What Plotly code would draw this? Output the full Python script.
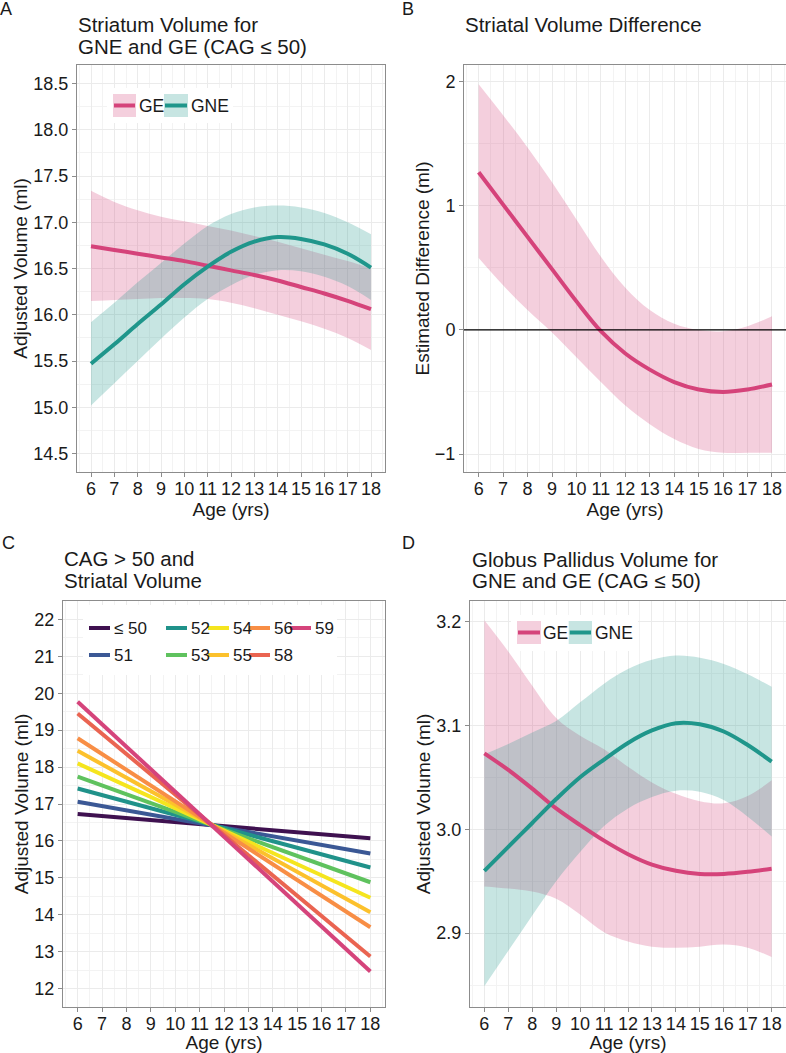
import plotly.graph_objects as go

# ---------------- data ----------------
ages = [6, 7, 8, 9, 10, 11, 12, 13, 14, 15, 16, 17, 18]

# Panel A: striatum volume (ml)
a_ge_fit = [16.74, 16.70, 16.66, 16.62, 16.58, 16.53, 16.48, 16.43, 16.37, 16.30, 16.23, 16.15, 16.06]
a_ge_lo = [16.15, 16.16, 16.17, 16.18, 16.18, 16.17, 16.13, 16.07, 16.00, 15.93, 15.85, 15.75, 15.62]
a_ge_hi = [17.34, 17.22, 17.13, 17.06, 17.01, 16.96, 16.91, 16.85, 16.79, 16.72, 16.65, 16.58, 16.50]
a_gne_fit = [15.47, 15.68, 15.90, 16.11, 16.33, 16.52, 16.68, 16.79, 16.84, 16.82, 16.76, 16.66, 16.51]
a_gne_lo = [15.02, 15.26, 15.50, 15.74, 15.97, 16.17, 16.32, 16.43, 16.48, 16.47, 16.41, 16.31, 16.16]
a_gne_hi = [15.92, 16.13, 16.35, 16.56, 16.77, 16.96, 17.09, 17.16, 17.18, 17.16, 17.10, 17.00, 16.87]

# Panel B: estimated difference (ml)
b_fit = [1.27, 1.01, 0.75, 0.49, 0.23, -0.01, -0.19, -0.32, -0.42, -0.48, -0.50, -0.48, -0.44]
b_lo = [0.58, 0.36, 0.16, -0.02, -0.22, -0.42, -0.61, -0.76, -0.88, -0.96, -0.99, -0.99, -0.99]
b_hi = [1.98, 1.73, 1.47, 1.19, 0.89, 0.59, 0.34, 0.16, 0.05, 0.00, -0.01, 0.03, 0.11]
b_ref = 0

# Panel C: CAG > 50 lines (value at age 6 and age 18)
c_ages = [6, 18]
cag_groups = ["\u2264 50", "51", "52", "53", "54", "55", "56", "58", "59"]
c_at6 = [16.73, 17.06, 17.42, 17.74, 18.10, 18.44, 18.78, 19.45, 19.77]
c_at18 = [16.07, 15.66, 15.28, 14.88, 14.46, 14.07, 13.66, 12.87, 12.46]
cag_colors = ["#3F1150", "#3B5895", "#20928A", "#5FC25E", "#F5E51E",
              "#FCC12C", "#F88E45", "#EA6451", "#D5447B"]

# Panel D: globus pallidus volume (ml)
d_ge_fit = [3.073, 3.057, 3.039, 3.020, 3.004, 2.989, 2.976, 2.966, 2.960, 2.957, 2.957, 2.959, 2.962]
d_ge_lo = [2.945, 2.943, 2.940, 2.933, 2.918, 2.901, 2.892, 2.887, 2.886, 2.887, 2.889, 2.886, 2.877]
d_ge_hi = [3.201, 3.171, 3.138, 3.107, 3.090, 3.077, 3.060, 3.045, 3.034, 3.027, 3.025, 3.032, 3.047]
d_gne_fit = [2.960, 2.983, 3.006, 3.029, 3.050, 3.067, 3.083, 3.095, 3.102, 3.101, 3.094, 3.081, 3.065]
d_gne_lo = [2.849, 2.883, 2.917, 2.950, 2.978, 3.003, 3.020, 3.031, 3.037, 3.036, 3.028, 3.012, 2.993]
d_gne_hi = [3.072, 3.082, 3.093, 3.104, 3.122, 3.140, 3.154, 3.163, 3.167, 3.165, 3.159, 3.149, 3.137]

group_names = ["GE", "GNE"]

# ---------------- style ----------------
W, H = 786, 1053
FONT = "Liberation Sans, Arial, Helvetica, sans-serif"
TXT = "#1A1A1A"
PINK = "#D5437A"
TEAL = "#1F968B"
PINK_FILL = "rgba(214,69,123,0.26)"
TEAL_FILL = "rgba(33,150,140,0.25)"
BORDER = "#8C8C8C"
GRID = "#EBEBEB"
GRID_MINOR = "#F3F3F3"
TICK_SIZE = 18
AXT_SIZE = 19
TITLE_SIZE = 20.5


def fx(p):
    return p / W


def fy(p):
    return 1 - p / H


fig = go.Figure()


def band(ax, ay, lo, hi, fill):
    fig.add_trace(go.Scatter(x=ages, y=lo, mode="lines", line=dict(width=0, shape="spline"),
                             xaxis=ax, yaxis=ay, showlegend=False, hoverinfo="skip"))
    fig.add_trace(go.Scatter(x=ages, y=hi, mode="lines", line=dict(width=0, shape="spline"),
                             fill="tonexty", fillcolor=fill,
                             xaxis=ax, yaxis=ay, showlegend=False, hoverinfo="skip"))


def fitline(ax, ay, y, color, name):
    fig.add_trace(go.Scatter(x=ages, y=y, mode="lines", name=name,
                             line=dict(width=4, color=color, shape="spline"),
                             xaxis=ax, yaxis=ay, showlegend=False))


# Panel A
band("x", "y", a_ge_lo, a_ge_hi, PINK_FILL)
band("x", "y", a_gne_lo, a_gne_hi, TEAL_FILL)
fitline("x", "y", a_ge_fit, PINK, group_names[0])
fitline("x", "y", a_gne_fit, TEAL, group_names[1])

# Panel B
band("x2", "y2", b_lo, b_hi, PINK_FILL)
fitline("x2", "y2", b_fit, PINK, "Difference")

# Panel C
for name, v6, v18, col in zip(cag_groups, c_at6, c_at18, cag_colors):
    fig.add_trace(go.Scatter(x=c_ages, y=[v6, v18], mode="lines", name=name,
                             line=dict(width=4, color=col),
                             xaxis="x3", yaxis="y3", showlegend=False))

# Panel D
band("x4", "y4", d_ge_lo, d_ge_hi, PINK_FILL)
band("x4", "y4", d_gne_lo, d_gne_hi, TEAL_FILL)
fitline("x4", "y4", d_ge_fit, PINK, group_names[0])
fitline("x4", "y4", d_gne_fit, TEAL, group_names[1])


# ---------------- axes ----------------
def xax(dom, rng, anchor):
    return dict(domain=[fx(dom[0]), fx(dom[1])], range=rng, dtick=1, tick0=6, anchor=anchor,
                showline=True, linecolor=BORDER, linewidth=1, mirror=True,
                ticks="outside", ticklen=4, tickcolor=BORDER, tickwidth=1,
                ticklabelstandoff=-4,
                showgrid=True, gridcolor=GRID, gridwidth=1.3, zeroline=False,
                minor=dict(showgrid=True, gridcolor=GRID_MINOR, gridwidth=0.8, dtick=0.5),
                tickfont=dict(size=TICK_SIZE, color=TXT, family=FONT),
                title=dict(text="Age (yrs)", font=dict(size=AXT_SIZE, color=TXT, family=FONT), standoff=0),
                automargin=False)


def yax(dom, rng, dtick, tick0, minor, fmt, title, anchor):
    return dict(domain=[fy(dom[1]), fy(dom[0])], range=rng, dtick=dtick, tick0=tick0,
                tickformat=fmt, anchor=anchor,
                showline=True, linecolor=BORDER, linewidth=1, mirror=True,
                ticks="outside", ticklen=4, tickcolor=BORDER, tickwidth=1,
                showgrid=True, gridcolor=GRID, gridwidth=1.3, zeroline=False,
                minor=dict(showgrid=True, gridcolor=GRID_MINOR, gridwidth=0.8, dtick=minor),
                tickfont=dict(size=TICK_SIZE, color=TXT, family=FONT),
                title=dict(text=title, font=dict(size=AXT_SIZE, color=TXT, family=FONT), standoff=0),
                automargin=False)


TOP_ROW = (65, 472)
BOT_ROW = (601, 1007)

fig.update_layout(
    width=W, height=H, margin=dict(l=0, r=0, t=0, b=0),
    paper_bgcolor="white", plot_bgcolor="white",
    font=dict(family=FONT, color=TXT),
    showlegend=False,
    xaxis=xax((77, 385), [5.4, 18.6], "y"),
    yaxis=yax(TOP_ROW, [14.3, 18.7], 0.5, 14.5, 0.25, ".1f", "Adjusted Volume (ml)", "x"),
    xaxis2=xax((464, 786), [5.4, 18.573], "y2"),
    yaxis2=yax(TOP_ROW, [-1.145, 2.135], 1, 0, 0.5, "d", "Estimated Difference (ml)", "x2"),
    xaxis3=xax((63, 385), [5.4, 18.6], "y3"),
    yaxis3=yax(BOT_ROW, [11.5, 22.5], 1, 12, 0.5, "d", "Adjusted Volume (ml)", "x3"),
    xaxis4=xax((470, 786), [5.4, 18.6], "y4"),
    yaxis4=yax(BOT_ROW, [2.829, 3.2195], 0.1, 2.9, 0.05, ".1f", "Adjusted Volume (ml)", "x4"),
)

shapes = []
annotations = []

# zero reference line in panel B (spans the whole panel width)
shapes.append(dict(type="line", xref="paper", yref="y2", x0=fx(464), x1=fx(786), y0=b_ref, y1=b_ref,
                   line=dict(color="black", width=1.4), layer="above"))


def text(x, y, s, size, xanchor="left"):
    annotations.append(dict(x=fx(x), y=fy(y), xref="paper", yref="paper", text=s,
                            showarrow=False, xanchor=xanchor, yanchor="middle",
                            font=dict(size=size, color=TXT, family=FONT)))


# panel letters
text(6.5, 9, "A", 18, "center")
text(407.5, 9, "B", 18, "center")
text(8, 543, "C", 18, "center")
text(408.5, 543, "D", 18, "center")

# panel titles
text(76, 25, "Striatum Volume for", TITLE_SIZE)
text(76, 46.5, "GNE and GE (CAG \u2264 50)", TITLE_SIZE)
text(463, 24.5, "Striatal Volume Difference", TITLE_SIZE)
text(62, 558, "CAG &gt; 50 and", TITLE_SIZE)
text(62, 580.5, "Striatal Volume", TITLE_SIZE)
text(469.7, 559, "Globus Pallidus Volume for", TITLE_SIZE)
text(469.7, 580.5, "GNE and GE (CAG \u2264 50)", TITLE_SIZE)


def rect(x0, y0, x1, y1, fill):
    shapes.append(dict(type="rect", xref="paper", yref="paper", x0=fx(x0), x1=fx(x1),
                       y0=fy(y1), y1=fy(y0), fillcolor=fill, line=dict(width=0), layer="above"))


def hline(x0, x1, y, color, width=4):
    shapes.append(dict(type="line", xref="paper", yref="paper", x0=fx(x0), x1=fx(x1),
                       y0=fy(y), y1=fy(y), line=dict(color=color, width=width), layer="above"))


# legend for group panels (A and D)
def group_legend(bx0, by0, bx1, by1, keys):
    rect(bx0, by0, bx1, by1, "white")
    for (kx0, kx1, ky0, ky1, tx), name, col, fill in zip(keys, group_names, [PINK, TEAL], [PINK_FILL, TEAL_FILL]):
        rect(kx0, ky0, kx1, ky1, fill)
        hline(kx0 + 1, kx1 - 1, (ky0 + ky1) / 2, col)
        text(tx, (ky0 + ky1) / 2 + 0.5, name, 17.5)


group_legend(107, 88, 233, 123, [(113, 136, 94, 117, 137), (164, 188, 94, 117, 189)])
group_legend(511, 615, 638, 651, [(517, 541, 621, 644, 541), (568.7, 592, 621, 644, 593)])

# legend for panel C (column-major, 2 rows)
rect(83, 605, 337, 675, "white")
col_x = [89, 166, 208, 249, 290]
row_y = [628, 655]
for i, (name, col) in enumerate(zip(cag_groups, cag_colors)):
    cx = col_x[i // 2]
    ry = row_y[i % 2]
    hline(cx, cx + 21, ry, col)
    text(cx + 22.5, ry + 0.5, name, 17)

fig.update_layout(shapes=shapes, annotations=annotations)
fig.write_html("out.html", config={"displayModeBar": False},
               post_script="document.body.style.margin='0';document.body.style.overflow='hidden';")
